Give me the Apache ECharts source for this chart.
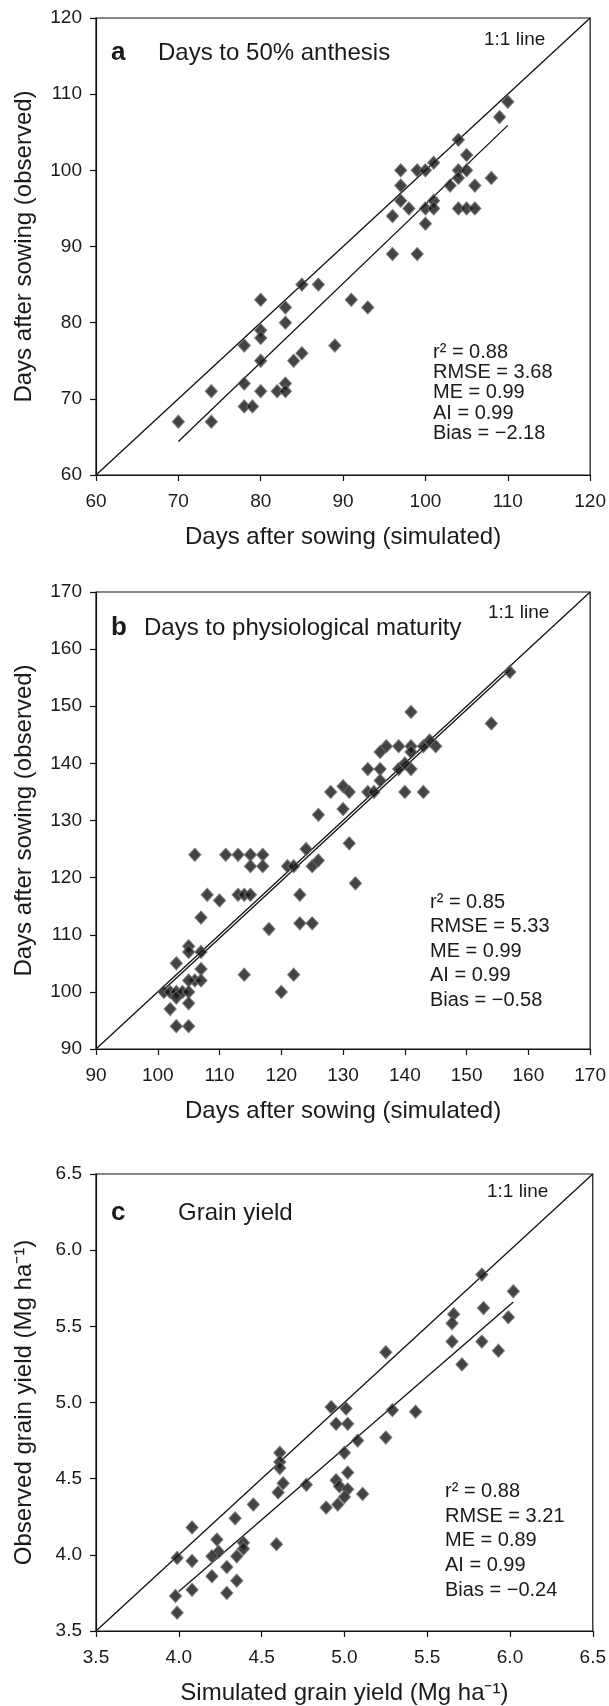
<!DOCTYPE html>
<html><head><meta charset="utf-8">
<script src="https://cdn.jsdelivr.net/npm/echarts@6/dist/echarts.min.js"></script>
<style>html,body{margin:0;padding:0;background:#fff}#c{width:609px;height:1706px}</style>
</head><body><div id="c"></div>
<script>
// Panel a: days to 50% anthesis
const aSim=[110,109,104,105,97,99,100,101,104,105,104,108,97,103,106,97,101,98,100,101,104,105,106,96,100,96,99,
            85,87,80,83,91,93,80,83,80,78,89,80,85,84,78,83,80,82,83,74,78,79,70,74];
const aObs=[109,107,104,102,100,100,100,101,100,100,99,99,98,98,98,96,96,95,95,95,95,95,95,94,93,89,89,
            85,85,83,82,83,82,79,80,78,77,77,75,76,75,72,72,71,71,71,71,69,69,67,67];
const aRegX=[70,110], aRegY=[64.4,105.9];
const aTicks=[60,70,80,90,100,110,120];
const aStats=['r² = 0.88','RMSE = 3.68','ME = 0.99','AI = 0.99','Bias = −2.18'];

// Panel b: days to physiological maturity
const bSim=[157,154,141,137,139,141,143,144,145,136,141,134,136,139,141,140,136,128,130,131,134,135,140,143,130,126,131,132,
            124,121,122,125,126,123,123,125,118,106,111,113,115,117,115,117,108,110,113,114,115,107,114,122,120,
            105,105,107,103,107,106,105,107,101,102,103,104,105,103,105,102,103,105];
const bObs=[156,147,149,143,143,143,143,144,143,142,142,139,139,139,139,140,137,135,136,135,135,135,135,135,132,131,126,119,
            125,122,122,122,123,117,112,112,111,124,124,124,124,124,122,122,117,116,117,117,117,113,103,103,100,
            108,107,107,105,104,102,102,102,100,100,100,100,100,99,98,97,94,94];
const bRegX=[101,157], bRegY=[100.4,156.4];
const bTicks=[90,100,110,120,130,140,150,160,170];
const bStats=['r² = 0.85','RMSE = 5.33','ME = 0.99','AI = 0.99','Bias = −0.58'];

// Panel c: grain yield
const cSim=[5.83,6.02,5.84,5.66,5.65,5.99,5.65,5.83,5.93,5.71,5.25,
            4.92,5.01,5.29,5.43,4.95,5.02,5.08,5.25,4.61,4.61,4.61,5.00,5.02,4.63,4.77,4.60,4.95,4.97,5.02,5.00,4.96,4.89,5.11,
            4.45,4.34,4.08,4.23,4.24,4.20,4.39,4.39,4.35,4.59,3.99,4.08,4.29,4.20,4.35,4.08,4.29,3.98,3.99];
const cObs=[5.84,5.73,5.62,5.58,5.52,5.56,5.40,5.40,5.34,5.25,5.33,
            4.97,4.96,4.95,4.94,4.86,4.86,4.75,4.77,4.67,4.61,4.57,4.67,4.54,4.47,4.46,4.41,4.49,4.45,4.43,4.38,4.33,4.31,4.40,
            4.33,4.24,4.18,4.10,4.02,3.99,4.08,4.04,3.99,4.07,3.98,3.96,3.92,3.86,3.83,3.77,3.75,3.73,3.62];
const cRegX=[4.0,6.02], cRegY=[3.76,5.66];
const cTicks=[3.5,4.0,4.5,5.0,5.5,6.0,6.5];
const cStats=['r² = 0.88','RMSE = 3.21','ME = 0.89','AI = 0.99','Bias = −0.24'];

const FONT='"Liberation Sans", Arial, Helvetica, sans-serif';
const tops=[18,592,1174];
const panels=[
  {sim:aSim,obs:aObs,regX:aRegX,regY:aRegY,ticks:aTicks,dec:0,
   xName:'Days after sowing (simulated)',yName:'Days after sowing (observed)'},
  {sim:bSim,obs:bObs,regX:bRegX,regY:bRegY,ticks:bTicks,dec:0,
   xName:'Days after sowing (simulated)',yName:'Days after sowing (observed)'},
  {sim:cSim,obs:cObs,regX:cRegX,regY:cRegY,ticks:cTicks,dec:1,
   xName:'Simulated grain yield (Mg ha⁻¹)',yName:'Observed grain yield (Mg ha⁻¹)'}
];

const grid=[],xAxis=[],yAxis=[],series=[];
panels.forEach((p,i)=>{
  grid.push({left:96,width:497,top:tops[i],height:457,show:true,borderColor:'#111',borderWidth:1.2,backgroundColor:'#fff'});
  const mn=p.ticks[0], mx=p.ticks[p.ticks.length-1], iv=p.ticks[1]-p.ticks[0];
  const common={gridIndex:i,type:'value',min:mn,max:mx,interval:iv,
    axisLine:{show:true,lineStyle:{color:'#111',width:1.2}},
    axisTick:{show:true,inside:false,length:6,lineStyle:{color:'#111',width:1.2}},
    splitLine:{show:false},
    nameLocation:'middle',
    nameTextStyle:{fontFamily:FONT,fontSize:24,color:'#1a1a1a'}};
  xAxis.push(Object.assign({},common,{name:p.xName,nameGap:50,
    axisLabel:{margin:17,fontFamily:FONT,fontSize:19,color:'#1a1a1a',formatter:v=>v.toFixed(p.dec)}}));
  yAxis.push(Object.assign({},common,{name:p.yName,nameGap:60,
    axisLabel:{margin:14,fontFamily:FONT,fontSize:19,color:'#1a1a1a',formatter:v=>v.toFixed(p.dec)}}));
  series.push({type:'line',xAxisIndex:i,yAxisIndex:i,data:[[mn,mn],[mx,mx]],symbol:'none',silent:true,
    lineStyle:{color:'#111',width:1.3},z:2});
  series.push({type:'line',xAxisIndex:i,yAxisIndex:i,data:p.regX.map((x,k)=>[x,p.regY[k]]),symbol:'none',silent:true,
    lineStyle:{color:'#111',width:1.3},z:2});
  series.push({type:'scatter',xAxisIndex:i,yAxisIndex:i,data:p.sim.map((x,k)=>[x,p.obs[k]]),
    symbol:'diamond',symbolSize:[12,13],
    itemStyle:{color:'#141414',borderColor:'#6e6e6e',borderWidth:1.2},z:3});
});

function txt(x,y,text,size,opts){
  return {type:'text',x:x,y:y,z:10,style:Object.assign({text:text,fontFamily:FONT,fontSize:size,fill:'#1a1a1a',
    align:'left',verticalAlign:'middle'},opts||{})};
}
function stats(x,y,lines,lh){
  return {type:'text',x:x,y:y,z:10,style:{text:lines.join('\n'),fontFamily:FONT,fontSize:20,fill:'#1a1a1a',
    lineHeight:lh,align:'left',verticalAlign:'top'}};
}
const graphic=[
  txt(111,53,'a',26,{fontWeight:'bold'}),
  txt(158,53,'Days to 50% anthesis',24),
  txt(484,40,'1:1 line',19),
  stats(433,342,aStats,20.3),
  txt(111,628,'b',26,{fontWeight:'bold'}),
  txt(144,628,'Days to physiological maturity',24),
  txt(488,613,'1:1 line',19),
  stats(430,890,bStats,24.5),
  txt(111,1213,'c',26,{fontWeight:'bold'}),
  txt(178,1213,'Grain yield',24),
  txt(487,1192,'1:1 line',19),
  stats(445,1479,cStats,24.7)
];

const chart=echarts.init(document.getElementById('c'),null,{renderer:'canvas'});
chart.setOption({animation:false,backgroundColor:'#fff',grid,xAxis,yAxis,series,graphic});
</script></body></html>
